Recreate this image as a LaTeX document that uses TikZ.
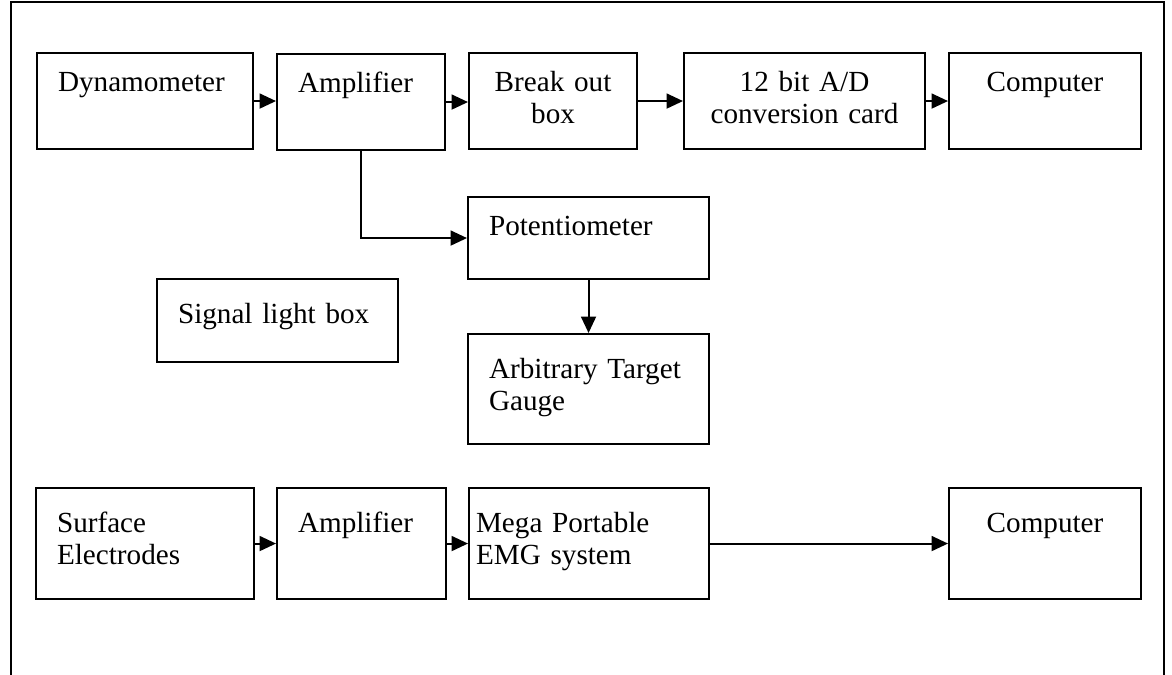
\documentclass[tikz,border=0pt]{standalone}
\usepackage{fontspec}
\setmainfont{Liberation Serif}
\usepackage{tikz}
\usetikzlibrary{arrows.meta, positioning, calc}
\newcommand{\boxfont}{\fontsize{16.6}{18.2}\selectfont}

\begin{document}
\begin{tikzpicture}[
        x=0.02cm, y=-0.02cm,
        % Base Box Style (text hangs from the top edge)
        unit/.style={
            rectangle,
            draw,
            line width=1.2pt,
            anchor=north west,
            inner xsep=0.42cm,
            inner ysep=0pt,
            text height=0.76cm,
            align=left,
            font=\boxfont
        },
        topRow/.style={unit, text depth=1.16cm},
        lowBox/.style={unit, text height=0.88cm},
        % Flow Lines
        signalFlow/.style={-{Triangle[length=0.33cm, width=0.3cm]}, line width=1.1pt},
        frameLine/.style={line width=1.1pt}
    ]
    \useasboundingbox (0,0) rectangle (1172,675);

    % --- OUTER FRAME ---
    \draw[frameLine] (11,675) -- (11,2) -- (1164,2) -- (1164,675);

    % --- FORCE CHANNEL ---
    \node[topRow, text width=3.48cm] (dyn)   at (36,52)  {Dynamometer};
    \node[topRow, text width=2.52cm] (amp)   at (276,53) {Amplifier};
    \node[topRow, text width=2.52cm, align=center] (brk) at (468,52) {Break out\\box};
    \node[topRow, text width=3.98cm, align=center] (adc) at (683,52) {12 bit A/D\\conversion card};
    \node[topRow, text width=3.0cm, align=center]  (pc)  at (948,52) {Computer};

    \node[unit, text width=3.98cm, text depth=0.88cm] (pot) at (467,196) {Potentiometer};
    \node[lowBox, text width=3.98cm, text depth=0.78cm] (light) at (156,278) {Signal light box};
    \node[lowBox, text width=3.98cm, text depth=1.32cm] (gauge) at (467,333) {Arbitrary Target\\Gauge};

    % --- EMG CHANNEL ---
    \node[lowBox, text width=3.52cm, text depth=1.34cm] (elec)  at (35,487)  {Surface\\Electrodes};
    \node[lowBox, text width=2.54cm, text depth=1.34cm] (ampE)  at (276,487) {Amplifier};
    \node[lowBox, text width=4.52cm, text depth=1.34cm, inner xsep=0.14cm] (emg) at (468,487) {Mega Portable\\EMG system};
    \node[lowBox, text width=3.0cm, text depth=1.34cm, align=center] (pcE) at (948,487) {Computer};

    % --- FORCE SIGNAL PATH ---
    \draw[signalFlow] (dyn.east) -- (dyn.east -| amp.west);
    \draw[signalFlow] (amp.east) -- (amp.east -| brk.west);
    \draw[signalFlow] (brk.east) -- (brk.east -| adc.west);
    \draw[signalFlow] (adc.east) -- (adc.east -| pc.west);

    % Amplifier -> Potentiometer -> Gauge
    \draw[signalFlow] (amp.south) |- (pot.west);
    \draw[signalFlow] (pot.south) -- (gauge.north);

    % --- EMG SIGNAL PATH ---
    \draw[signalFlow] (elec.east) -- (ampE.west);
    \draw[signalFlow] (ampE.east) -- (emg.west);
    \draw[signalFlow] (emg.east) -- (pcE.west);

\end{tikzpicture}
\end{document}
